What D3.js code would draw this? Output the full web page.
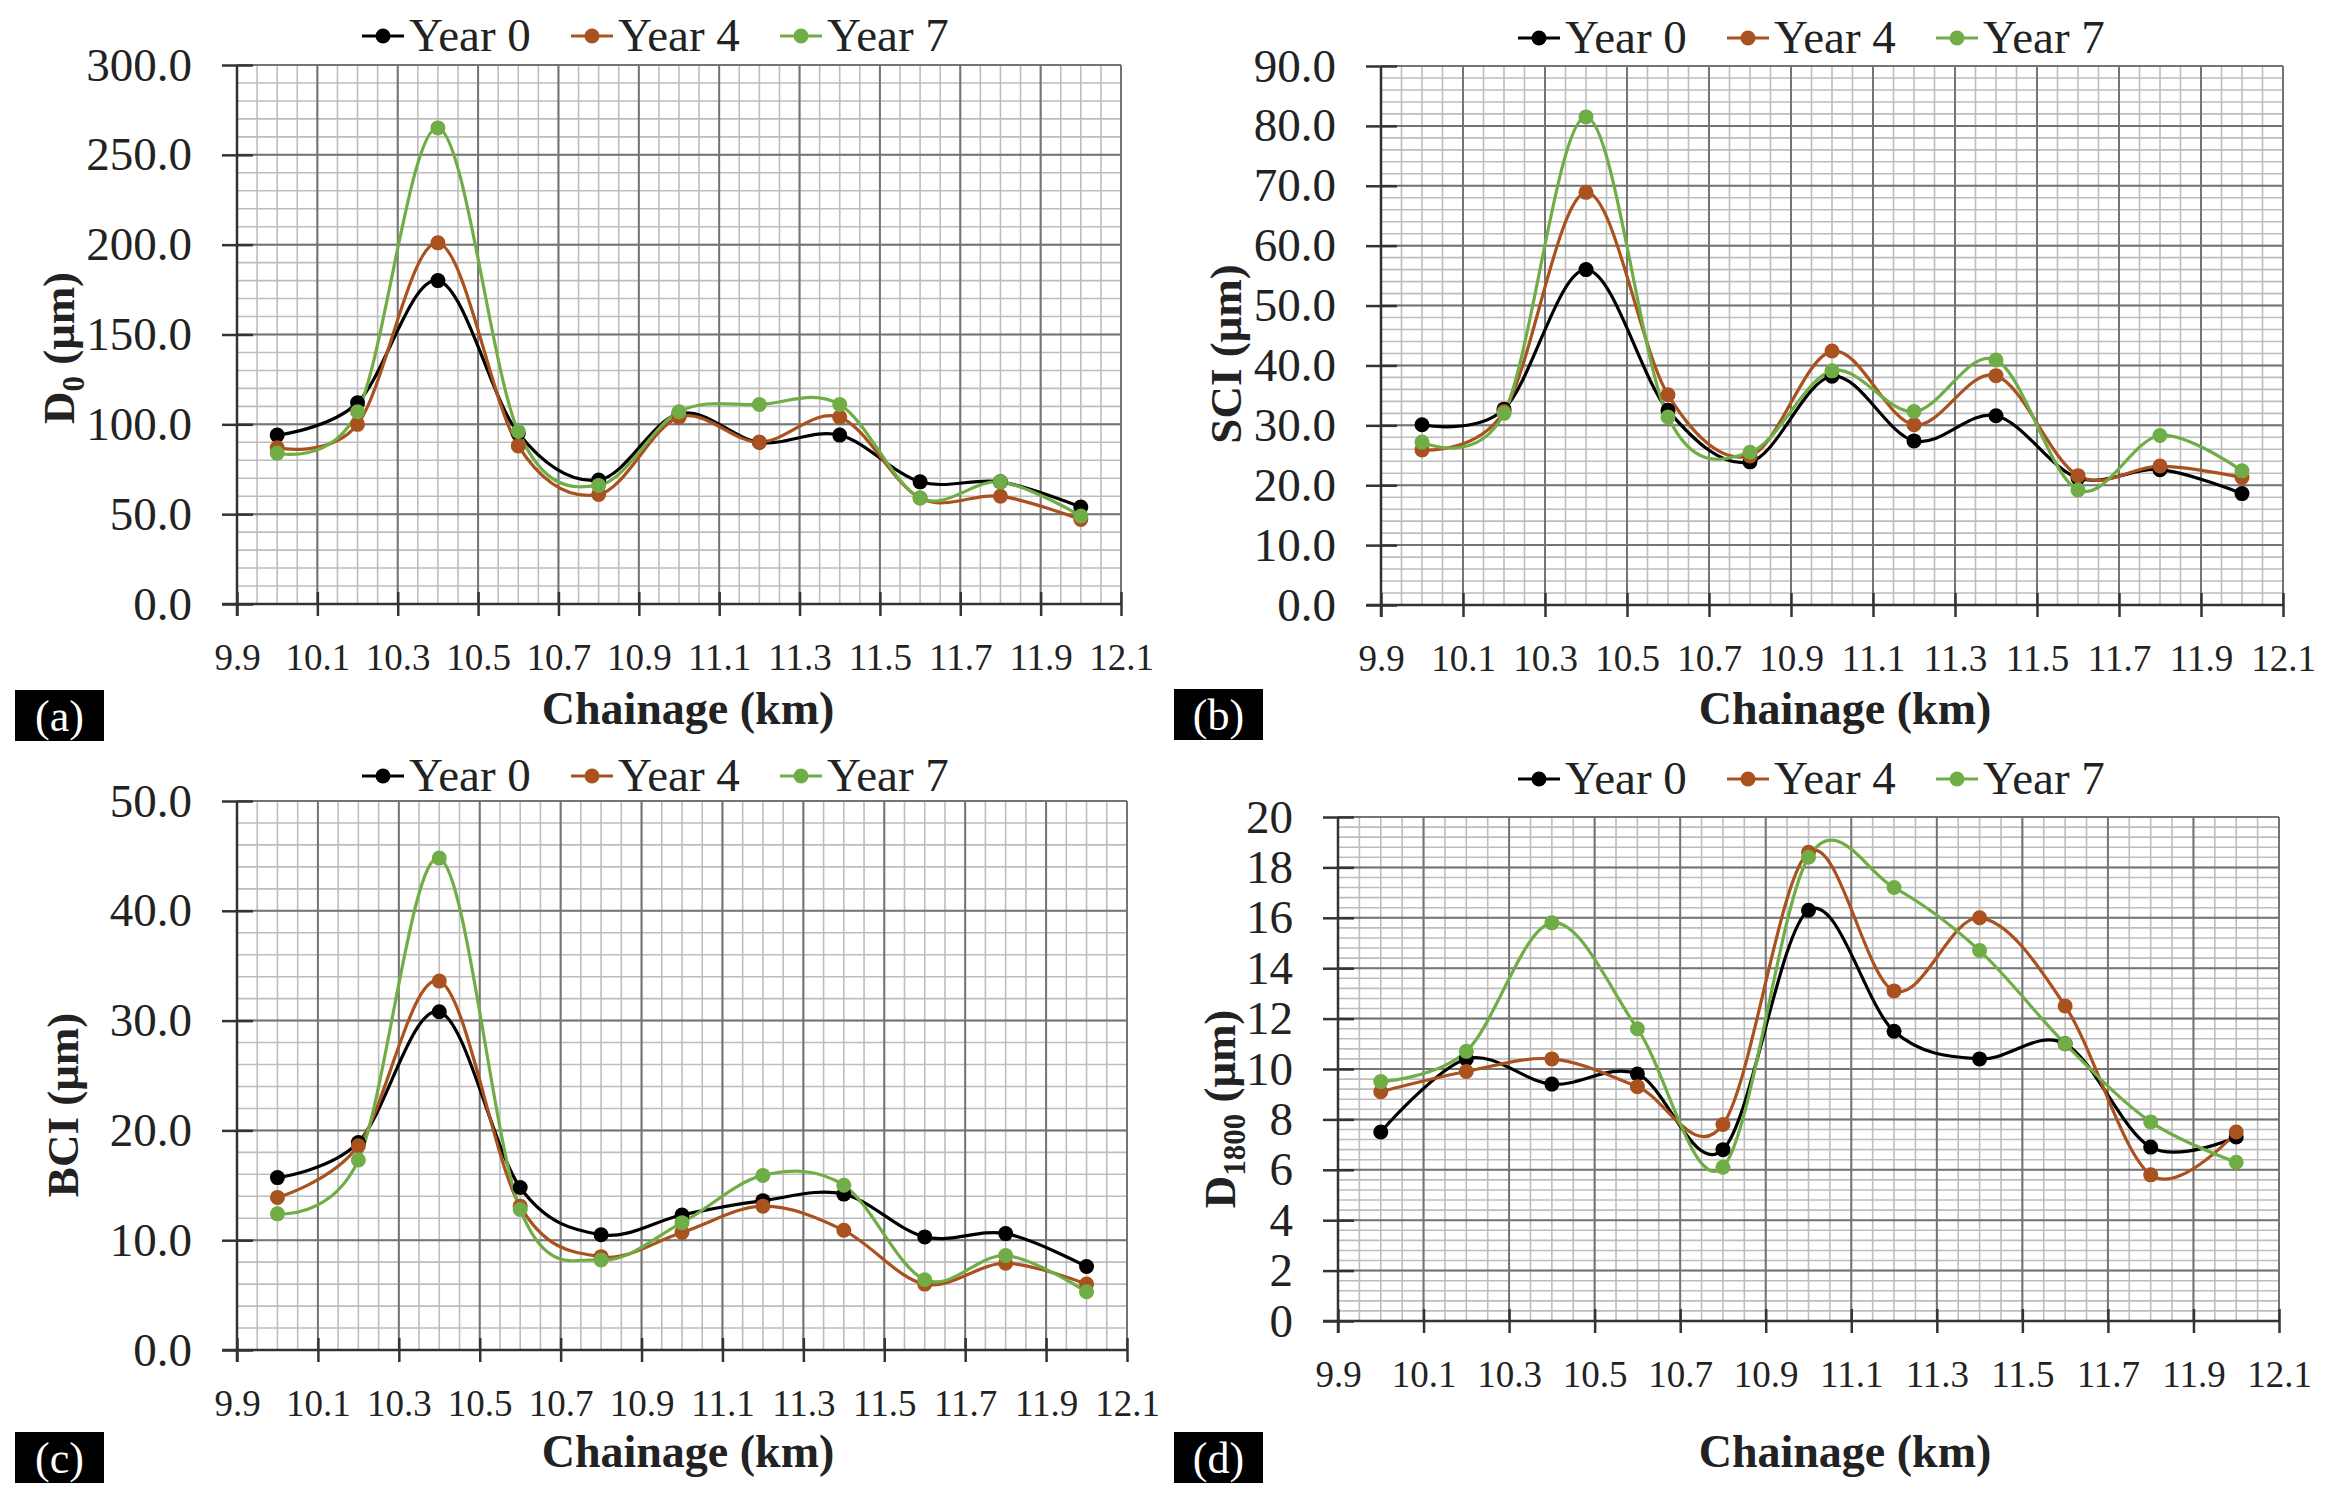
<!DOCTYPE html>
<html>
<head>
<meta charset="utf-8">
<script src="https://cdn.jsdelivr.net/npm/d3@7"></script>
<style>
  body { margin: 0; background: #fff; }
  text { font-family: "Liberation Serif", "Times New Roman", serif; fill: #222; }
</style>
</head>
<body>
<svg id="fig" width="2325" height="1497"></svg>
<script>
// chainage (km) of the measuring points
var chainage = [10.0, 10.2, 10.4, 10.6, 10.8, 11.0, 11.2, 11.4, 11.6, 11.8, 12.0]
var xTicks = [9.9, 10.1, 10.3, 10.5, 10.7, 10.9, 11.1, 11.3, 11.5, 11.7, 11.9, 12.1]
var seriesNames = ["Year 0", "Year 4", "Year 7"]

// (a) D0
var d0Year0 = [94, 112, 180, 95, 69, 106, 90, 94, 68, 68, 54]
var d0Year4 = [87, 100, 201, 88, 61, 104, 90, 104, 59, 60, 47]
var d0Year7 = [84, 107, 265, 96, 66, 107, 111, 111, 59, 68, 49]
var d0Ticks = [0, 50, 100, 150, 200, 250, 300]

// (b) SCI
var sciYear0 = [30.1, 32.7, 56.0, 32.5, 23.9, 38.2, 27.4, 31.6, 21.2, 22.6, 18.6]
var sciYear4 = [25.9, 32.3, 68.9, 35.1, 24.9, 42.4, 30.1, 38.3, 21.6, 23.2, 21.3]
var sciYear7 = [27.2, 32.0, 81.5, 31.4, 25.5, 39.1, 32.3, 40.9, 19.2, 28.3, 22.4]
var sciTicks = [0, 10, 20, 30, 40, 50, 60, 70, 80, 90]

// (c) BCI
var bciYear0 = [15.7, 18.9, 30.8, 14.8, 10.5, 12.3, 13.6, 14.2, 10.3, 10.6, 7.6]
var bciYear4 = [13.9, 18.6, 33.6, 13.1, 8.5, 10.7, 13.1, 10.9, 6.0, 7.9, 6.0]
var bciYear7 = [12.4, 17.3, 44.8, 12.8, 8.2, 11.6, 15.9, 15.0, 6.4, 8.6, 5.3]
var bciTicks = [0, 10, 20, 30, 40, 50]

// (d) D1800
var d1800Year0 = [7.5, 10.4, 9.4, 9.8, 6.8, 16.3, 11.5, 10.4, 11.0, 6.9, 7.3]
var d1800Year4 = [9.1, 9.9, 10.4, 9.3, 7.8, 18.6, 13.1, 16.0, 12.5, 5.8, 7.5]
var d1800Year7 = [9.5, 10.7, 15.8, 11.6, 6.1, 18.4, 17.2, 14.7, 11.0, 7.9, 6.3]
var d1800Ticks = [0, 2, 4, 6, 8, 10, 12, 14, 16, 18, 20]

var cores = ["#000000", "#a9511f", "#70ad47"]

var painels = [
  {id: "a", label: "(a)", ytit: ["D", "0", " (μm)"], series: [d0Year0, d0Year4, d0Year7], ticks: d0Ticks, minor: 10, fmt: ".1f",
   box: {l: 237, r: 1121, t: 65, b: 604}, leg: {x: 362, y: 36}, yt: {x: 58, y: 348}, xt: {x: 688, y: 724}, tag: {x: 15, y: 690}},
  {id: "b", label: "(b)", ytit: ["SCI (μm)"], series: [sciYear0, sciYear4, sciYear7], ticks: sciTicks, minor: 2, fmt: ".1f",
   box: {l: 1381, r: 2283, t: 66, b: 605}, leg: {x: 1518, y: 38}, yt: {x: 1225, y: 354}, xt: {x: 1845, y: 724}, tag: {x: 1174, y: 689}},
  {id: "c", label: "(c)", ytit: ["BCI (μm)"], series: [bciYear0, bciYear4, bciYear7], ticks: bciTicks, minor: 2, fmt: ".1f",
   box: {l: 237, r: 1127, t: 801, b: 1350}, leg: {x: 362, y: 776}, yt: {x: 62, y: 1105}, xt: {x: 688, y: 1467}, tag: {x: 15, y: 1432}},
  {id: "d", label: "(d)", ytit: ["D", "1800", " (μm)"], series: [d1800Year0, d1800Year4, d1800Year7], ticks: d1800Ticks, minor: 0.4, fmt: "d",
   box: {l: 1338, r: 2279, t: 817, b: 1321}, leg: {x: 1518, y: 779}, yt: {x: 1219, y: 1109}, xt: {x: 1845, y: 1467}, tag: {x: 1174, y: 1432}}
]

var svg = d3.select("#fig")
svg.append("rect").attr("width", 2325).attr("height", 1497).attr("fill", "#fff")

function desenhaPainel(p) {
  var b = p.box
  var ymax = p.ticks[p.ticks.length - 1]
  var x = d3.scaleLinear().domain([9.9, 12.1]).range([b.l, b.r])
  var y = d3.scaleLinear().domain([0, ymax]).range([b.b, b.t])
  var g = svg.append("g").attr("id", "painel_" + p.id)

  // grade fina
  var nMinorX = Math.round(2.2 / 0.05)
  var minorX = d3.range(0, nMinorX + 1).map(function(i) { return 9.9 + i * 0.05 })
  var nMinorY = Math.round(ymax / p.minor)
  var minorY = d3.range(0, nMinorY + 1).map(function(i) { return i * p.minor })

  g.append("g").selectAll("line").data(minorX).enter().append("line")
    .attr("x1", function(d) { return x(d) }).attr("x2", function(d) { return x(d) })
    .attr("y1", b.t).attr("y2", b.b)
    .attr("stroke", "#bdbdbd").attr("stroke-width", 1.6)
  g.append("g").selectAll("line").data(minorY).enter().append("line")
    .attr("y1", function(d) { return y(d) }).attr("y2", function(d) { return y(d) })
    .attr("x1", b.l).attr("x2", b.r)
    .attr("stroke", "#bdbdbd").attr("stroke-width", 1.6)

  // grade principal
  g.append("g").selectAll("line").data(xTicks).enter().append("line")
    .attr("x1", function(d) { return x(d) }).attr("x2", function(d) { return x(d) })
    .attr("y1", b.t).attr("y2", b.b)
    .attr("stroke", "#747474").attr("stroke-width", 2)
  g.append("g").selectAll("line").data(p.ticks).enter().append("line")
    .attr("y1", function(d) { return y(d) }).attr("y2", function(d) { return y(d) })
    .attr("x1", b.l).attr("x2", b.r)
    .attr("stroke", "#747474").attr("stroke-width", 2)

  // eixos
  var eixoY = g.append("g").attr("transform", "translate(" + b.l + ",0)")
    .call(d3.axisLeft(y).tickValues(p.ticks).tickFormat(d3.format(p.fmt)).tickSizeOuter(0).tickSizeInner(15).tickPadding(30))
  eixoY.select(".domain").attr("stroke", "#333").attr("stroke-width", 2.5)
    .attr("d", "M0," + (b.b + 12) + "V" + b.t)
  eixoY.selectAll(".tick line").attr("x1", 16).attr("x2", -15).attr("stroke", "#333").attr("stroke-width", 2.5)
  eixoY.selectAll(".tick text").attr("font-size", 47).attr("font-family", "Liberation Serif").attr("fill", "#222")

  var eixoX = g.append("g").attr("transform", "translate(0," + b.b + ")")
    .call(d3.axisBottom(x).tickValues(xTicks).tickFormat(d3.format(".1f")).tickSizeOuter(0).tickSizeInner(12))
  eixoX.select(".domain").attr("stroke", "#333").attr("stroke-width", 2.5)
    .attr("d", "M" + (b.l - 15) + ",0H" + b.r)
  eixoX.selectAll(".tick line").attr("y1", -12).attr("y2", 12).attr("stroke", "#333").attr("stroke-width", 2.5)
  eixoX.selectAll(".tick text").attr("y", 66).attr("dy", 0).attr("font-size", 37)
    .attr("font-family", "Liberation Serif").attr("fill", "#222")

  // curvas suavizadas
  var linha = d3.line()
    .x(function(d, i) { return x(chainage[i]) })
    .y(function(d) { return y(d) })
    .curve(d3.curveCardinal.tension(0))

  p.series.forEach(function(s, k) {
    g.append("path").datum(s).attr("d", linha)
      .attr("fill", "none").attr("stroke", cores[k]).attr("stroke-width", 3.2)
  })
  p.series.forEach(function(s, k) {
    g.append("g").selectAll("circle").data(s).enter().append("circle")
      .attr("cx", function(d, i) { return x(chainage[i]) })
      .attr("cy", function(d) { return y(d) })
      .attr("r", 7.5).attr("fill", cores[k])
  })

  // legenda
  var leg = g.append("g").attr("transform", "translate(" + p.leg.x + "," + p.leg.y + ")")
  seriesNames.forEach(function(n, k) {
    var it = leg.append("g").attr("transform", "translate(" + (k * 209) + ",0)")
    it.append("line").attr("x1", 0).attr("x2", 42).attr("y1", 0).attr("y2", 0)
      .attr("stroke", cores[k]).attr("stroke-width", 3.2)
    it.append("circle").attr("cx", 21).attr("cy", 0).attr("r", 7.5).attr("fill", cores[k])
    it.append("text").attr("x", 47).attr("y", 15).attr("font-size", 47).text(n)
  })

  // titulo do eixo y
  var ty = g.append("text")
    .attr("transform", "translate(" + p.yt.x + "," + p.yt.y + ") rotate(-90)")
    .attr("text-anchor", "middle").attr("dy", "0.35em")
    .attr("font-size", 45).attr("font-weight", "bold")
  if (p.ytit.length == 1) {
    ty.text(p.ytit[0])
  } else {
    ty.append("tspan").text(p.ytit[0])
    ty.append("tspan").attr("font-size", 31).attr("dy", 10).text(p.ytit[1])
    ty.append("tspan").attr("dy", -10).text(p.ytit[2])
  }

  // titulo do eixo x
  g.append("text").attr("x", p.xt.x).attr("y", p.xt.y)
    .attr("text-anchor", "middle").attr("font-size", 46).attr("font-weight", "bold")
    .text("Chainage (km)")

  // etiqueta do painel
  g.append("rect").attr("x", p.tag.x).attr("y", p.tag.y).attr("width", 89).attr("height", 51).attr("fill", "#000")
  g.append("text").attr("x", p.tag.x + 44.5).attr("y", p.tag.y + 41)
    .attr("text-anchor", "middle").attr("font-size", 44).style("fill", "#fff")
    .text(p.label)
}

painels.forEach(desenhaPainel)
</script>
</body>
</html>
